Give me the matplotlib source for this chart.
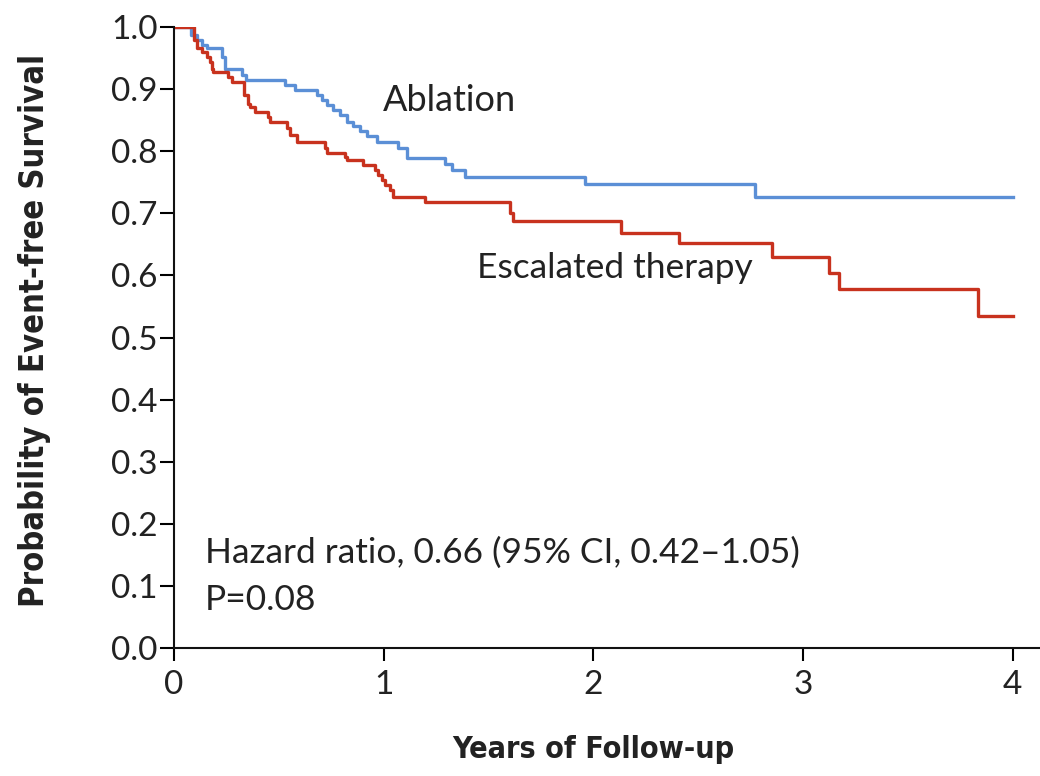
import matplotlib
matplotlib.use("Agg")
import matplotlib.pyplot as plt
from matplotlib import font_manager

# Kaplan-Meier steps (time in years, survival after step)
ablation_t = [0, 0.080, 0.108, 0.132, 0.156, 0.227, 0.243, 0.323, 0.343, 0.529,
              0.577, 0.680, 0.704, 0.728, 0.758, 0.791, 0.823, 0.853, 0.887,
              0.919, 0.966, 1.069, 1.109, 1.292, 1.324, 1.387, 1.959, 2.770, 4.0]
ablation_s = [1.0, 0.987, 0.979, 0.972, 0.966, 0.952, 0.933, 0.923, 0.915, 0.907,
              0.899, 0.890, 0.882, 0.874, 0.866, 0.858, 0.848, 0.840, 0.832,
              0.824, 0.815, 0.806, 0.789, 0.780, 0.770, 0.759, 0.748, 0.727, 0.727]

escalated_t = [0, 0.095, 0.110, 0.132, 0.156, 0.172, 0.179, 0.186, 0.259, 0.275,
               0.332, 0.353, 0.362, 0.386, 0.449, 0.458, 0.537, 0.553, 0.585,
               0.720, 0.728, 0.815, 0.823, 0.902, 0.958, 0.973, 0.990, 1.006,
               1.030, 1.046, 1.197, 1.602, 1.616, 2.134, 2.408, 2.850, 3.123,
               3.170, 3.835, 4.0]
escalated_s = [1.0, 0.979, 0.966, 0.960, 0.952, 0.944, 0.933, 0.928, 0.920, 0.912,
               0.890, 0.877, 0.871, 0.863, 0.855, 0.848, 0.838, 0.826, 0.815,
               0.805, 0.797, 0.791, 0.786, 0.778, 0.770, 0.762, 0.754, 0.746,
               0.738, 0.727, 0.719, 0.700, 0.687, 0.669, 0.652, 0.630, 0.604,
               0.579, 0.535, 0.535]

x_ticks = [0, 1, 2, 3, 4]
y_ticks = [0.0, 0.1, 0.2, 0.3, 0.4, 0.5, 0.6, 0.7, 0.8, 0.9, 1.0]


def weight_num(w):
    if isinstance(w, (int, float)):
        return w
    return font_manager.weight_dict.get(str(w), 400)


def face_score(f):
    # closest to a plain bold, and not an extra-condensed / black cut
    s = abs(weight_num(f.weight) - 700)
    low = (f.name + " " + f.fname).lower()
    if "black" in low or "heavy" in low or "extra" in low or "ultra" in low:
        s += 500
    if "italic" in low or "oblique" in low:
        s += 1000
    return s


# pick a narrow bold face for the axis titles if one is installed
narrow = [f for f in font_manager.fontManager.ttflist
          if ("narrow" in (f.name + f.fname).lower() or "condensed" in (f.name + f.fname).lower())
          and weight_num(f.weight) >= 600]
narrow.sort(key=face_score)
label_path = narrow[0].fname if narrow else None

text_font = "Lato"
text_color = "#222222"

fig = plt.figure(figsize=(10.4, 7.76), dpi=100)
ax = fig.add_axes([0.1673, 0.165, 0.8327, 0.800])

ax.step(ablation_t, ablation_s, where="post", color="#5b8fd6", lw=2.4)
ax.step(escalated_t, escalated_s, where="post", color="#c8321e", lw=2.4)

ax.set_xlim(0, 4.13)
ax.set_ylim(0, 1.0)
ax.set_xticks(x_ticks)
ax.set_xticklabels([str(v) for v in x_ticks])
ax.set_yticks(y_ticks)
ax.set_yticklabels([f"{v:.1f}" for v in y_ticks])

for side in ["top", "right"]:
    ax.spines[side].set_visible(False)
for side in ["left", "bottom"]:
    ax.spines[side].set_linewidth(1.5)
    ax.spines[side].set_color("#111111")

ax.tick_params(axis="y", direction="out", length=10, width=1.5, pad=2,
               labelsize=24, labelcolor=text_color)
ax.tick_params(axis="x", direction="out", length=9, width=1.5, pad=7,
               labelsize=24, labelcolor=text_color)
for lab in ax.get_xticklabels() + ax.get_yticklabels():
    lab.set_family(text_font)

if label_path:
    label_kw = dict(fontproperties=font_manager.FontProperties(fname=label_path, size=25))
else:
    label_kw = dict(family="DejaVu Sans", fontweight="bold", fontsize=25)

ylab = fig.text(35 / 1040, 1 - 330 / 776, "Probability of Event-free Survival",
                color=text_color, rotation=90, ha="center", va="center", **label_kw)
xlab = fig.text(593 / 1040, 1 - 750 / 776, "Years of Follow-up",
                color=text_color, ha="center", va="center", **label_kw)

# shrink the axis titles to the lengths seen in the reference
fig.canvas.draw()
r = fig.canvas.get_renderer()
for t, target in [(ylab, 555), (xlab, 283)]:
    bb = t.get_window_extent(r)
    length = max(bb.width, bb.height)
    t.set_fontsize(25 * target / length)

ax.text(0.996, 0.882, "Ablation", family=text_font, fontsize=26,
        color=text_color, va="center", ha="left")
ax.text(1.445, 0.612, "Escalated therapy", family=text_font, fontsize=25.5,
        color=text_color, va="center", ha="left")
ax.text(0.148, 0.153, "Hazard ratio, 0.66 (95% CI, 0.42\u20131.05)",
        family=text_font, fontsize=25.5, color=text_color, va="center", ha="left")
ax.text(0.148, 0.077, "P=0.08", family=text_font, fontsize=25.5,
        color=text_color, va="center", ha="left")

fig.savefig("out.png", dpi=100)
